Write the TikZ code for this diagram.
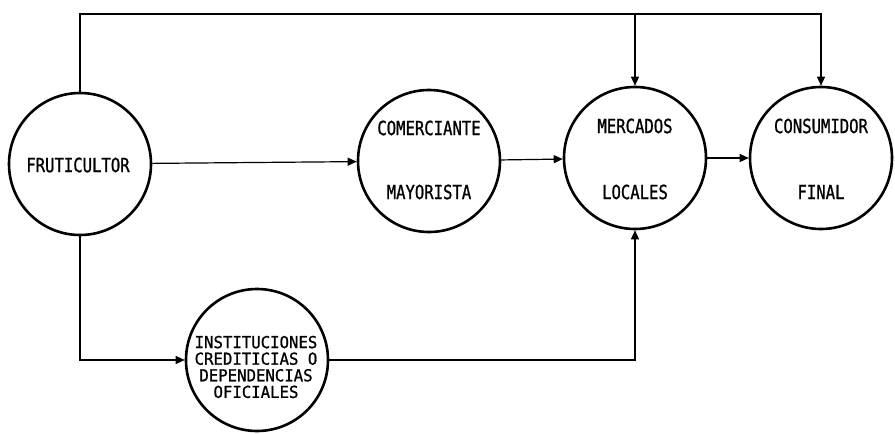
\documentclass[tikz,border=0pt]{standalone}
\usepackage{fontspec}
\newfontfamily\dotfont[FakeStretch=0.8,FakeBold=1]{DejaVu Sans Mono}
\newfontfamily\dotfontb[FakeStretch=0.95,FakeBold=1]{DejaVu Sans Mono}
\usetikzlibrary{arrows.meta}
\begin{document}
\begin{tikzpicture}[x=1pt,y=-1pt,
  bubble/.style={circle,draw,line width=2.6pt,minimum size=142pt,inner sep=0pt},
  lbl/.style={font=\dotfont\fontsize{19.5}{16.4}\selectfont,align=center,inner sep=0pt},
  lblsmall/.style={font=\dotfontb\fontsize{16.5}{16.6}\selectfont,align=center,inner sep=0pt},
  conn/.style={line width=1.2pt},
  tip/.style={-{Triangle[length=9pt,width=8pt]}}]
\useasboundingbox (0,0) rectangle (895,434);
\node[bubble] (F) at (80,164) {};
\node[bubble] (C) at (429,161) {};
\node[bubble] (M) at (635,158) {};
\node[bubble] (K) at (821,158) {};
\node[bubble] (I) at (257,360) {};
\node[lbl] (Ft) at (78,165) {FRUTICULTOR};
\node[lbl] (Ct1) at (429,128) {COMERCIANTE};
\node[lbl] (Ct2) at (429,192) {MAYORISTA};
\node[lbl] (Mt1) at (635,126) {MERCADOS};
\node[lbl] (Mt2) at (635,192) {LOCALES};
\node[lbl] (Kt1) at (821,126) {CONSUMIDOR};
\node[lbl] (Kt2) at (821,192) {FINAL};
\node[lblsmall] (It) at (256,367) {INSTITUCIONES\\CREDITICIAS O\\DEPENDENCIAS\\OFICIALES};
\coordinate (top) at (80,14);
\draw[conn,tip] (F.north) -- (top) -| (K.north);
\draw[conn,tip] (M.north |- top) -- (M.north);
\draw[conn,tip] (F) -- (C);
\draw[conn,tip] (C) -- (M);
\draw[conn,tip] (M) -- (K);
\draw[conn,tip] (F.south) |- (I.west);
\draw[conn,tip] (I.east) -| (M.south);
\end{tikzpicture}
\end{document}
